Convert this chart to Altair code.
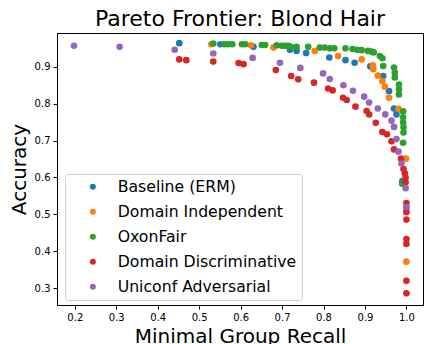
import altair as alt
import pandas as pd

methods = [
    "Baseline (ERM)",
    "Domain Independent",
    "OxonFair",
    "Domain Discriminative",
    "Uniconf Adversarial",
]
colors = ["#1f77b4", "#ff7f0e", "#2ca02c", "#d62728", "#9467bd"]

# minimal group recall / accuracy per method
erm_recall = [0.452, 0.551, 0.631, 0.719, 0.735, 0.758, 0.814, 0.853, 0.875, 0.913,
              0.944, 0.958, 0.970, 0.976, 0.990]
erm_acc = [0.964, 0.961, 0.954, 0.946, 0.943, 0.937, 0.925, 0.918, 0.911, 0.901,
           0.875, 0.834, 0.787, 0.771, 0.590]

di_recall = [0.529, 0.625, 0.679, 0.779, 0.835, 0.892, 0.919, 0.920, 0.931, 0.942,
             0.948, 0.958, 0.981, 0.999, 1.000]
di_acc = [0.961, 0.958, 0.952, 0.943, 0.929, 0.920, 0.904, 0.893, 0.876, 0.861,
          0.846, 0.816, 0.786, 0.651, 0.372]

oxon_recall = [0.534, 0.561, 0.570, 0.580, 0.603, 0.611, 0.651, 0.659, 0.687, 0.699,
               0.707, 0.715, 0.721, 0.735, 0.763, 0.791, 0.803, 0.815, 0.826, 0.853,
               0.870, 0.881, 0.892, 0.907, 0.916, 0.921, 0.936, 0.942, 0.944, 0.970,
               0.972, 0.972, 0.982, 0.982, 0.982, 0.992, 0.992, 0.992, 0.993, 0.993,
               0.992, 0.990]
oxon_acc = [0.963, 0.961, 0.961, 0.961, 0.961, 0.961, 0.959, 0.959, 0.958, 0.957,
            0.957, 0.957, 0.954, 0.954, 0.954, 0.952, 0.952, 0.950, 0.950, 0.950,
            0.948, 0.946, 0.945, 0.943, 0.941, 0.939, 0.929, 0.923, 0.902, 0.898,
            0.884, 0.871, 0.852, 0.839, 0.825, 0.779, 0.763, 0.749, 0.736, 0.722,
            0.694, 0.583]

dd_recall = [0.452, 0.469, 0.534, 0.595, 0.607, 0.685, 0.722, 0.739, 0.777, 0.811,
             0.822, 0.847, 0.856, 0.877, 0.904, 0.910, 0.926, 0.942, 0.953, 0.964,
             0.970, 0.987, 0.993, 0.996, 0.998, 0.998, 1.000, 1.000, 1.000, 1.000,
             1.000, 1.000, 1.000, 1.000]
dd_acc = [0.920, 0.918, 0.914, 0.910, 0.907, 0.891, 0.875, 0.866, 0.857, 0.841,
          0.836, 0.816, 0.810, 0.792, 0.780, 0.771, 0.748, 0.723, 0.717, 0.698,
          0.676, 0.651, 0.623, 0.611, 0.600, 0.587, 0.531, 0.517, 0.506, 0.486,
          0.433, 0.420, 0.320, 0.286]

uni_recall = [0.198, 0.308, 0.441, 0.534, 0.629, 0.695, 0.744, 0.799, 0.815, 0.848,
              0.871, 0.898, 0.910, 0.931, 0.949, 0.964, 0.970, 0.976, 0.981, 0.988,
              0.998, 1.000]
uni_acc = [0.957, 0.954, 0.946, 0.936, 0.924, 0.911, 0.897, 0.882, 0.867, 0.850,
           0.835, 0.819, 0.803, 0.787, 0.771, 0.754, 0.737, 0.704, 0.670, 0.638,
           0.571, 0.520]

series = [
    (methods[0], erm_recall, erm_acc),
    (methods[1], di_recall, di_acc),
    (methods[2], oxon_recall, oxon_acc),
    (methods[3], dd_recall, dd_acc),
    (methods[4], uni_recall, uni_acc),
]
rows = []
for name, xs, ys in series:
    for x, y in zip(xs, ys):
        rows.append({"method": name, "recall": x, "accuracy": y})
df = pd.DataFrame(rows)

x_ticks = [0.2, 0.3, 0.4, 0.5, 0.6, 0.7, 0.8, 0.9, 1.0]
y_ticks = [0.3, 0.4, 0.5, 0.6, 0.7, 0.8, 0.9]

axis_common = dict(
    grid=False,
    domainColor="black",
    tickColor="black",
    labelColor="black",
    titleColor="black",
    labelFontSize=10,
    tickSize=4,
    labelPadding=3,
    titleFontSize=20,
    titleFontWeight="normal",
    format=".1f",
)

chart = (
    alt.Chart(df)
    .mark_circle(size=44, opacity=1)
    .encode(
        x=alt.X(
            "recall:Q",
            title="Minimal Group Recall",
            scale=alt.Scale(domain=[0.157, 1.04], nice=False, zero=False),
            axis=alt.Axis(values=x_ticks, titleY=37, titleBaseline="alphabetic", **axis_common),
        ),
        y=alt.Y(
            "accuracy:Q",
            title="Accuracy",
            scale=alt.Scale(domain=[0.2545, 0.9915], nice=False, zero=False),
            axis=alt.Axis(values=y_ticks, titleX=-32, titleBaseline="alphabetic", **axis_common),
        ),
        color=alt.Color(
            "method:N",
            scale=alt.Scale(domain=methods, range=colors),
            legend=alt.Legend(
                title=None,
                orient="none",
                legendX=8,
                legendY=141,
                symbolType="circle",
                symbolSize=36,
                symbolOffset=15,
                labelOffset=17,
                labelFontSize=15.7,
                labelLimit=400,
                labelColor="black",
                rowPadding=8,
                padding=5,
                fillColor="white",
                strokeColor="#d0d0d0",
                cornerRadius=3,
            ),
        ),
        order=alt.Order("idx:Q"),
    )
    .transform_window(idx="row_number()")
    .properties(
        width=366,
        height=272,
        autosize=alt.AutoSizeParams(type="none"),
        padding={"left": 57, "top": 33, "right": 1, "bottom": 39},
        title=alt.TitleParams(
            "Pareto Frontier: Blond Hair",
            fontSize=22,
            fontWeight="normal",
            anchor="middle",
            frame="group",
            baseline="alphabetic",
            offset=8,
            dy=23,
            color="black",
        ),
    )
    .configure(font="DejaVu Sans")
    .configure_view(stroke="black", strokeWidth=1)
)

chart.save("out.html", embed_options={"renderer": "svg", "actions": False})
